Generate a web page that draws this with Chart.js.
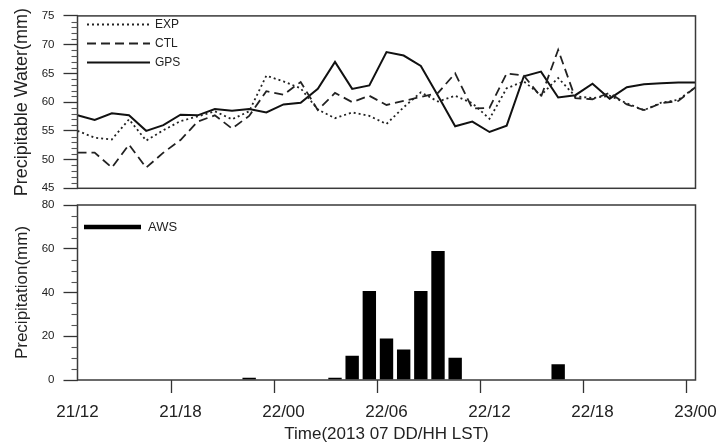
<!DOCTYPE html>
<html>
<head>
<meta charset="utf-8">
<script src="https://cdn.jsdelivr.net/npm/chart.js@4.4.1/dist/chart.umd.min.js"></script>
<style>
html,body{margin:0;padding:0;background:#fff;}
#wrap{position:relative;width:717px;height:446px;background:#fff;}
canvas{position:absolute;left:0;top:0;}
</style>
</head>
<body>
<div id="wrap">
<canvas id="pw" width="717" height="446"></canvas>
<canvas id="pr" width="717" height="446"></canvas>
</div>
<script>
// Hourly categories 21/12 .. 23/00 (LST)
const categories = [
  '21/12','21/13','21/14','21/15','21/16','21/17','21/18','21/19','21/20','21/21','21/22','21/23',
  '22/00','22/01','22/02','22/03','22/04','22/05','22/06','22/07','22/08','22/09','22/10','22/11',
  '22/12','22/13','22/14','22/15','22/16','22/17','22/18','22/19','22/20','22/21','22/22','22/23',
  '23/00'
];
const xTickLabels = ['21/12','21/18','22/00','22/06','22/12','22/18','23/00'];

// Precipitable water (mm)
const expValues = [55.0,53.8,53.5,57.0,53.3,55.1,56.7,57.5,58.4,57.0,58.4,64.6,63.6,62.4,58.7,57.2,58.2,57.6,56.2,59.1,61.7,60.1,61.1,59.8,57.1,62.4,63.6,61.2,64.2,61.0,60.7,61.1,59.8,58.6,59.9,60.4,62.6];
const ctlValues = [51.2,51.2,48.6,52.6,48.6,51.2,53.4,56.6,57.7,55.4,57.6,61.9,61.3,63.5,58.6,61.6,60.0,61.1,59.5,60.2,60.9,61.6,65.0,58.9,59.0,65.0,64.6,60.9,69.1,60.7,60.5,61.6,59.6,58.6,59.8,60.2,62.6];
const gpsValues = [57.7,56.9,58.05,57.7,55.0,56.0,57.8,57.7,58.8,58.5,58.8,58.2,59.6,59.9,62.3,67.0,62.3,62.9,68.7,68.1,66.3,61.1,55.8,56.6,54.8,55.9,64.5,65.3,60.8,61.2,63.2,60.6,62.6,63.1,63.3,63.4,63.4];

// Hourly precipitation (mm)
const awsValues = [0,0,0,0,0,0,0,0,0,0,1.0,0,0,0,0,1.0,11.1,40.7,19.0,14.0,40.7,59.0,10.2,0,0,0,0,0,7.2,0,0,0,0,0,0,0,0];

Chart.defaults.font.family = "'Liberation Sans', Arial, Helvetica, sans-serif";
Chart.defaults.color = '#222';

const frame = {
  id: 'frame',
  afterDraw(chart, args, opts) {
    const ctx = chart.ctx, a = chart.chartArea, y = chart.scales.y;
    ctx.save();
    ctx.strokeStyle = '#3a3a3a';
    ctx.lineWidth = 1.5;
    ctx.setLineDash([]);
    ctx.strokeRect(a.left, a.top, a.right - a.left, a.bottom - a.top);
    // minor ticks
    ctx.lineWidth = 1.1;
    ctx.strokeStyle = '#555';
    for (let v = y.min + opts.minor; v < y.max - 1e-6; v += opts.minor) {
      if (Math.abs(Math.round(v / opts.major) * opts.major - v) < 1e-6) continue;
      const py = Math.round(y.getPixelForValue(v)) + 0.5;
      ctx.beginPath();
      ctx.moveTo(a.left - opts.minorLen, py);
      ctx.lineTo(a.left, py);
      ctx.stroke();
    }
    // legend
    const L = opts.legend;
    ctx.font = L.fontSize + "px 'Liberation Sans', Arial, sans-serif";
    ctx.textBaseline = 'middle';
    ctx.textAlign = 'left';
    chart.data.datasets.forEach((ds, i) => {
      const yy = L.ys[i];
      ctx.strokeStyle = ds.borderColor || '#000';
      ctx.lineWidth = ds.legendWidth || ds.borderWidth;
      ctx.setLineDash(ds.borderDash || []);
      ctx.lineCap = 'butt';
      ctx.beginPath();
      ctx.moveTo(L.x0, yy);
      ctx.lineTo(L.x1, yy);
      ctx.stroke();
      ctx.setLineDash([]);
      ctx.fillStyle = '#222';
      ctx.fillText(ds.label, L.textX, yy + 0.5);
    });
    ctx.restore();
  }
};

new Chart(document.getElementById('pw'), {
  type: 'line',
  data: {
    labels: categories,
    datasets: [
      {label: 'EXP', data: expValues, borderColor: '#222', borderWidth: 1.8, borderDash: [2, 3], pointRadius: 0, fill: false, tension: 0},
      {label: 'CTL', data: ctlValues, borderColor: '#222', borderWidth: 1.8, borderDash: [9, 5], pointRadius: 0, fill: false, tension: 0},
      {label: 'GPS', data: gpsValues, borderColor: '#111', borderWidth: 2, pointRadius: 0, fill: false, tension: 0}
    ]
  },
  options: {
    responsive: false, animation: false, devicePixelRatio: 1,
    layout: {padding: {left: 0, right: 21.5, top: 12.3, bottom: 257.7}},
    plugins: {
      legend: {display: false}, tooltip: {enabled: false},
      frame: {minor: 1, major: 5, minorLen: 6, legend: {x0: 87, x1: 150, textX: 155, ys: [24.5, 43.5, 62.5], fontSize: 12}}
    },
    scales: {
      x: {display: false, offset: false},
      y: {
        min: 45, max: 75,
        afterFit: s => { s.width = 77.5; },
        ticks: {stepSize: 5, padding: 9, color: '#222', font: {size: 11.5}},
        grid: {drawOnChartArea: false, tickLength: 14, tickColor: '#333', tickWidth: 1.3},
        border: {display: false},
        title: {display: true, text: 'Precipitable Water(mm)', color: '#222', font: {size: 18}, padding: {top: 11, bottom: 0}}
      }
    }
  },
  plugins: [frame]
});

new Chart(document.getElementById('pr'), {
  type: 'bar',
  data: {
    labels: categories,
    datasets: [
      {label: 'AWS', data: awsValues, backgroundColor: '#000', borderColor: '#000', borderWidth: 0, legendWidth: 4.5, barPercentage: 1, categoryPercentage: 0.78}
    ]
  },
  options: {
    responsive: false, animation: false, devicePixelRatio: 1,
    layout: {padding: {left: 0, right: 21.5, top: 205, bottom: 0}},
    plugins: {
      legend: {display: false}, tooltip: {enabled: false},
      frame: {minor: 5, major: 20, minorLen: 6, legend: {x0: 84, x1: 141, textX: 148, ys: [227], fontSize: 13}}
    },
    scales: {
      x: {
        type: 'category', offset: false,
        afterFit: s => { s.height = 66; s.paddingLeft = 0; s.paddingRight = 0; },
        grid: {drawOnChartArea: false, tickLength: 13, tickWidth: 1.3, tickColor: c => (c.index % 6 === 0 ? '#333' : 'rgba(0,0,0,0)')},
        border: {display: false},
        ticks: {autoSkip: false, maxRotation: 0, minRotation: 0, padding: 9.5, color: '#222', font: {size: 17},
          callback: (v, i) => (xTickLabels.includes(categories[i]) ? categories[i] : '')},
        title: {display: true, text: 'Time(2013 07 DD/HH LST)', color: '#222', font: {size: 17}, padding: {top: 0, bottom: 1}}
      },
      y: {
        min: 0, max: 80,
        afterFit: s => { s.width = 77.5; },
        ticks: {stepSize: 20, padding: 9, color: '#222', font: {size: 11.5}},
        grid: {drawOnChartArea: false, tickLength: 14, tickColor: '#333', tickWidth: 1.3},
        border: {display: false},
        title: {display: true, text: 'Precipitation(mm)', color: '#222', font: {size: 17}, padding: {top: 12, bottom: 0}}
      }
    }
  },
  plugins: [frame]
});
</script>
</body>
</html>
